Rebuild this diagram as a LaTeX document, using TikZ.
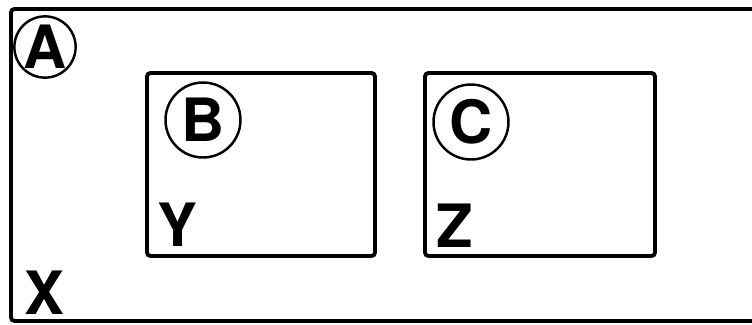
\documentclass[tikz,border=0pt]{standalone}
\usepackage{fontspec}
\setmainfont{TeX Gyre Heros}
\usetikzlibrary{positioning}

\begin{document}
\begin{tikzpicture}[x=0.02cm,y=-0.02cm,
        frame/.style={line width=2.2pt,rounded corners=2pt},
        tag/.style={draw,circle,line width=1.4pt,inner sep=0pt,minimum size=1.5cm,font=\bfseries\fontsize{34}{34}\selectfont},
        letter/.style={anchor=base west,inner sep=0pt,font=\bfseries\fontsize{34}{34}\selectfont}]
        \clip (0,0) rectangle (752,325);
        % outer area, open to the right
        \draw[frame] (11,9) rectangle (780,321);
        \draw[frame] (147,73) rectangle (375,256);
        \draw[frame] (425,73) rectangle (655,256);
        \node[tag,minimum size=1.18cm] (tagA) at (45,47) {A};
        \node[tag] (tagB) at (203,120) {B};
        \node[tag] (tagC) at (471,122) {C};
        \node[letter] (labX) at (24,314) {X};
        \node[letter] (labY) at (157,246) {Y};
        \node[letter] (labZ) at (436,247) {Z};
    \end{tikzpicture}
\end{document}
